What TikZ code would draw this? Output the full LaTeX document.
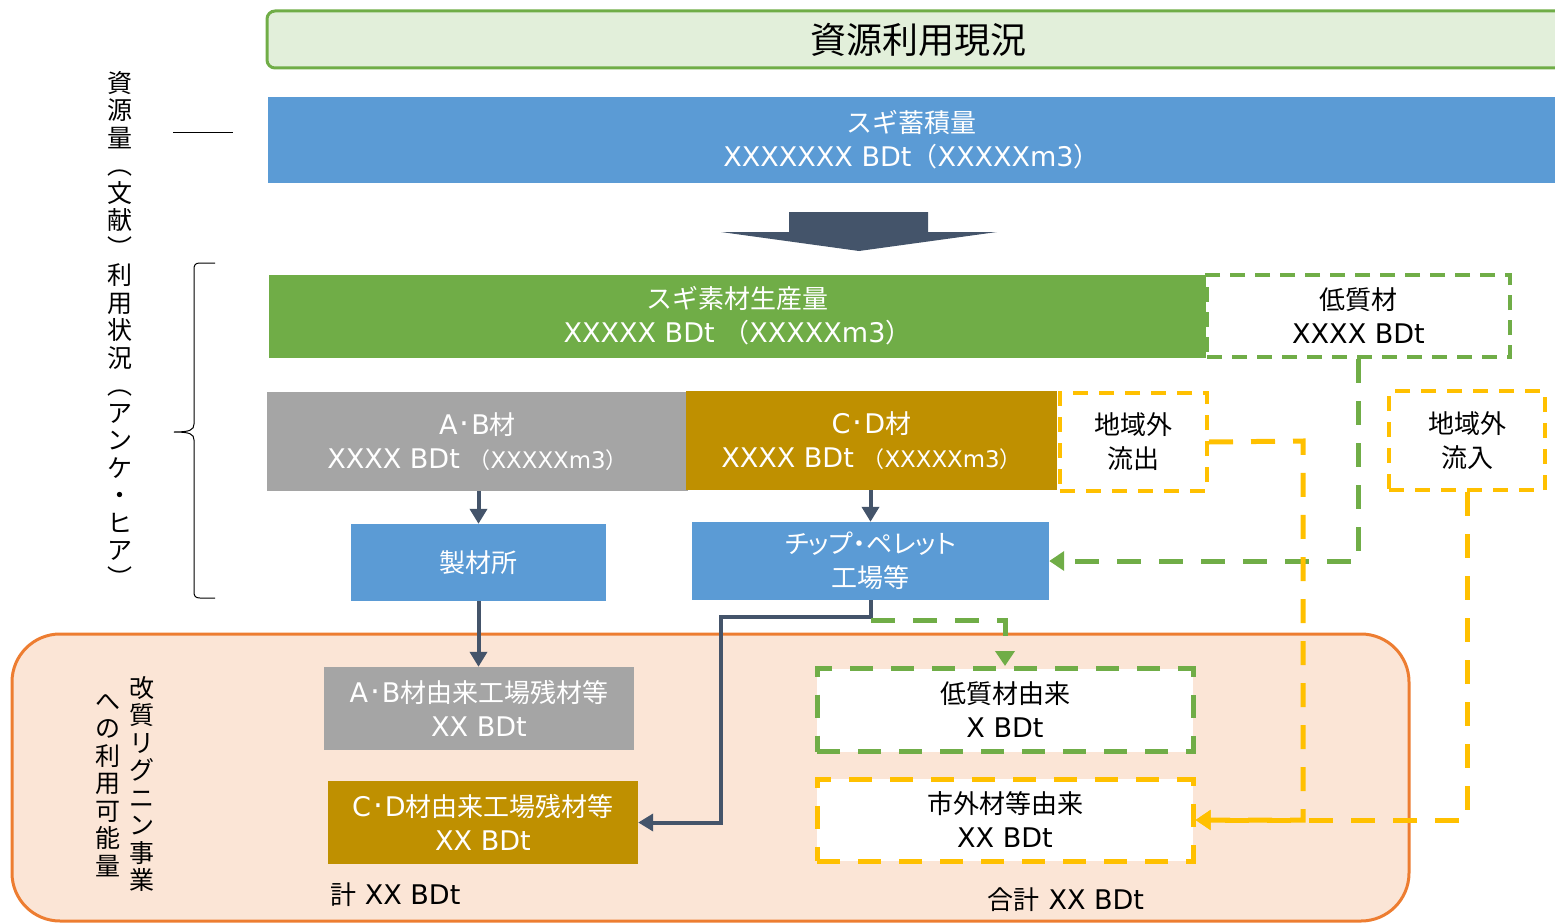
\documentclass[tikz,border=0pt]{standalone}
\usepackage{fontspec}
\setmainfont[Scale=1.04]{DejaVu Sans}
\newfontfamily\Jfont{Noto Sans CJK JP}
\newfontfamily\Jpfont[RawFeature=+palt]{Noto Sans CJK JP}
\newcommand\jp[1]{{\Jfont #1}}
\usetikzlibrary{arrows.meta}
\definecolor{tgreenfill}{HTML}{E2EFDA}
\definecolor{tgreen}{HTML}{70AD47}
\definecolor{tblue}{HTML}{5B9BD5}
\definecolor{tgray}{HTML}{A5A5A5}
\definecolor{tgold}{HTML}{BF9000}
\definecolor{tyellow}{HTML}{FFC000}
\definecolor{tdark}{HTML}{44546A}
\definecolor{torange}{HTML}{ED7D31}
\definecolor{tpeach}{HTML}{FBE5D6}
\newcommand\mdot{\kern2pt{\fontsize{30}{34}\selectfont·}\kern2pt}
\begin{document}
\begin{tikzpicture}[x=1pt,y=-1pt,
  every node/.style={inner sep=0pt, align=center, font=\fontsize{26}{34}\selectfont},
  solidbox/.style={fill=#1, text=white},
  gbox/.style={draw=tgreen, line width=4pt, dash pattern=on 15pt off 10pt, fill=white},
  ybox/.style={draw=tyellow, line width=4pt, dash pattern=on 15pt off 11pt, fill=white},
  gboxb/.style={draw=tgreen, line width=5pt, dash pattern=on 23pt off 18pt, fill=white},
  yboxb/.style={draw=tyellow, line width=5pt, dash pattern=on 23pt off 18pt, fill=white},
  darrow/.style={draw=tdark, line width=4pt, -{Triangle[length=15pt,width=17pt]}},
  gline/.style={draw=tgreen, line width=5pt, dash pattern=on 24pt off 18pt, -{Triangle[length=15pt,width=19pt]}},
  yline/.style={draw=tyellow, line width=5pt, dash pattern=on 24pt off 18pt, -{Triangle[length=15pt,width=19pt]}},
  vtext/.style={font=\Jfont\fontsize{25}{27.5}\selectfont, align=center},
]
\path[use as bounding box, clip] (0,0) rectangle (1555,923);

% region background
\draw[torange, fill=tpeach, line width=3pt, rounded corners=48pt] (12,634) rectangle (1409,921);

% title
\node[draw=tgreen, fill=tgreenfill, line width=3pt, rounded corners=8pt,
      minimum width=1302pt, minimum height=57pt, font=\Jfont\fontsize{36}{40}\selectfont] (title) at (918,39.5) {資源利用現況};

% resource stock
\node[solidbox=tblue, minimum width=1287pt, minimum height=85pt] (stock) at (911.5,140)
  {\jp{スギ蓄積量}\\XXXXXXX BDt\jp{（}XXXXXm3\jp{）}};

% big arrow
\fill[tdark] (789,212) -- (928,212) -- (928,232) -- (997,232) -- (859,251) -- (721,232) -- (789,232) -- cycle;

% left labels
\node[vtext] (vleft) at (120,329) {資\\源\\量\\︵\\文\\献\\︶\\利\\用\\状\\況\\︵\\ア\\ン\\ケ\\・\\ヒ\\ア\\︶};
\coordinate (l1) at (173,133);
\coordinate (l2) at (233,133);
\draw[line width=1pt] (l1) -- (l2);
\draw[line width=1pt] (215,263) -- (200,263) .. controls (195,263) and (194,265) .. (194,270)
  -- (194,424) .. controls (194,430) and (190,432) .. (174,432)
  .. controls (190,432) and (194,434) .. (194,440) -- (194,591)
  .. controls (194,596) and (195,598) .. (200,598) -- (215,598);

% production
\node[solidbox=tgreen, minimum width=937pt, minimum height=83pt] (prod) at (737.5,316)
  {\jp{スギ素材生産量}\\XXXXX BDt \jp{（}XXXXXm3\jp{）}};
\node[gbox, minimum width=303pt, minimum height=82pt] (low) at (1358.5,316)
  {\jp{低質材}\\XXXX BDt};

% AB / CD
\node[solidbox=tgray, minimum width=421pt, minimum height=99pt] (ab) at (477.5,441.5)
  {A\mdot B\jp{材}\\XXXX BDt {\fontsize{22}{34}\selectfont\jp{（}XXXXXm3\jp{）}}};
\node[solidbox=tgold, minimum width=371pt, minimum height=99pt] (cd) at (871.5,440.5)
  {C\mdot D\jp{材}\\XXXX BDt {\fontsize{22}{34}\selectfont\jp{（}XXXXXm3\jp{）}}};
\node[ybox, minimum width=147pt, minimum height=98pt, font=\Jfont\fontsize{26}{34}\selectfont] (out) at (1133.5,442) {地域外\\流出};
\node[ybox, minimum width=156pt, minimum height=99pt, font=\Jfont\fontsize{26}{34}\selectfont] (in) at (1467,440.5) {地域外\\流入};

% mills
\node[solidbox=tblue, minimum width=255pt, minimum height=77pt, font=\Jfont\fontsize{26}{34}\selectfont] (mill) at (478.5,562.5) {製材所};
\node[solidbox=tblue, minimum width=357pt, minimum height=78pt, font=\Jpfont\fontsize{26}{34}\selectfont] (chip) at (870.5,561) {チップ・ペレット\\工場等};

% region contents
\node[vtext] (vr) at (142,784) {改\\質\\リ\\グ\\ニ\\ン\\事\\業};
\node[vtext] (vl) at (108,785) {へ\\の\\利\\用\\可\\能\\量};

\node[solidbox=tgray, minimum width=310pt, minimum height=83pt] (abres) at (479,708.5)
  {A\mdot B\jp{材由来工場残材等}\\XX BDt};
\node[solidbox=tgold, minimum width=310pt, minimum height=83pt] (cdres) at (483,822.5)
  {C\mdot D\jp{材由来工場残材等}\\XX BDt};
\node[anchor=west] (sum1) at (330,895) {\jp{計} XX BDt};

\node[gboxb, minimum width=376pt, minimum height=83pt] (lowres) at (1005,710)
  {\jp{低質材由来}\\X BDt};
\node[yboxb, minimum width=376pt, minimum height=82pt] (extres) at (1005,820)
  {\jp{市外材等由来}\\XX BDt};
\node (sum2) at (1066,900) {\jp{合計} XX BDt};

% connectors
\draw[darrow] (mill.north |- ab.south) -- (mill.north);
\draw[darrow] (chip.north |- cd.south) -- (chip.north);
\draw[darrow] (mill.south) -- (mill.south |- abres.north);
\coordinate (j1) at (721,617);
\draw[darrow] (chip.south) |- (j1) |- (cdres.east);
\coordinate (g1) at (871,620);
\draw[gline] (g1) -| (lowres.north);
\draw[gline] (low.south) |- (chip.east);
\coordinate (y1) at (1303,441);
\draw[yline] (out.east) -- (y1) |- (extres.east);
\draw[yline] (in.south) |- (extres.east);
\end{tikzpicture}
\end{document}
